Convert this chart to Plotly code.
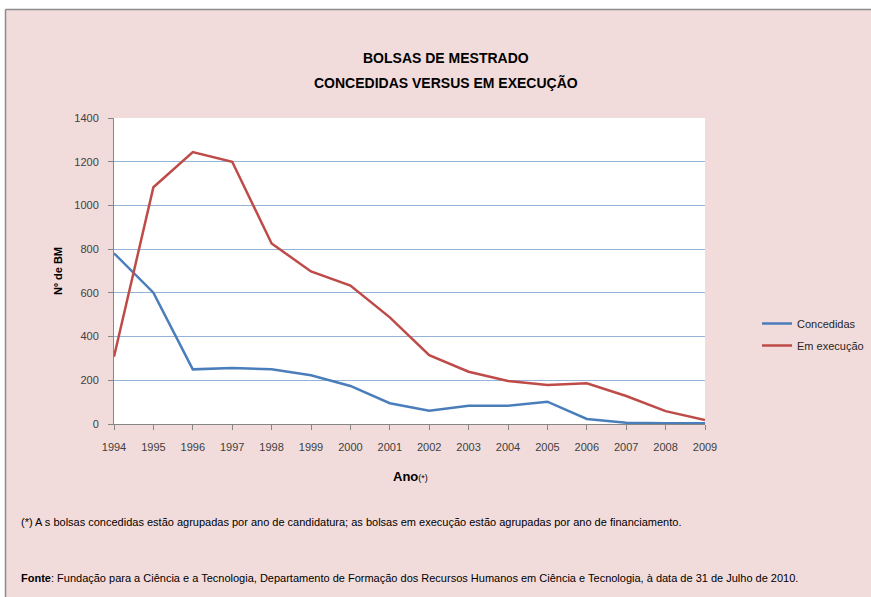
import plotly.graph_objects as go

anos = list(range(1994, 2010))
concedidas = [781, 601, 250, 256, 250, 223, 174, 95, 61, 84, 84, 102, 23, 6, 3, 3]
em_execucao = [308, 1083, 1244, 1200, 826, 698, 633, 488, 315, 239, 197, 178, 186, 128, 59, 18]
y_ticks = [0, 200, 400, 600, 800, 1000, 1200, 1400]

W, H = 871, 597
L, R, T, B = 114, 705, 118, 424

FONT = "Liberation Sans, Arial, sans-serif"

def px(x):
    return (x - L) / (R - L)

def py(y):
    return (B - y) / (B - T)

fig = go.Figure()
fig.add_trace(go.Scatter(x=anos, y=concedidas, mode="lines", name="Concedidas",
                         line=dict(color="#4A7EBB", width=2.5), legendgroup="a"))
fig.add_trace(go.Scatter(x=anos, y=em_execucao, mode="lines", name="Em execução",
                         line=dict(color="#BE4B48", width=2.5), legendgroup="b"))

fig.update_layout(
    width=W, height=H,
    margin=dict(l=L, r=W - R, t=T, b=H - B, pad=0, autoexpand=False),
    paper_bgcolor="#F2DCDB",
    plot_bgcolor="white",
    font=dict(family=FONT, size=11, color="#404040"),
    showlegend=True,
    legend=dict(x=px(757), y=py(309), xanchor="left", yanchor="top",
                bgcolor="rgba(0,0,0,0)", font=dict(size=11, color="#262626"),
                traceorder="grouped", tracegroupgap=3, itemwidth=30),
    xaxis=dict(range=[1994, 2009], tickmode="array", tickvals=anos,
               ticktext=[str(a) for a in anos], showgrid=False, zeroline=False,
               showline=True, linecolor="#868686", linewidth=1,
               ticks="outside", ticklen=5, tickcolor="#868686", ticklabelstandoff=8,
               tickfont=dict(size=11, color="#404040"), fixedrange=True),
    yaxis=dict(range=[0, 1400], tickmode="array", tickvals=y_ticks,
               showgrid=True, gridcolor="#95B3D7", gridwidth=1, zeroline=False,
               showline=True, linecolor="#868686", linewidth=1,
               ticks="outside", ticklen=5, tickcolor="#868686", ticklabelstandoff=7,
               tickfont=dict(size=11, color="#404040"), fixedrange=True),
    shapes=[
        dict(type="rect", xref="paper", yref="paper", x0=px(-5), x1=px(W + 5),
             y0=py(0), y1=py(9), fillcolor="white", line=dict(width=0), layer="below"),
        dict(type="rect", xref="paper", yref="paper", x0=px(-5), x1=px(5),
             y0=py(H + 5), y1=py(0), fillcolor="white", line=dict(width=0), layer="below"),
        dict(type="line", xref="paper", yref="paper", x0=px(5.5), x1=px(W + 10),
             y0=py(9.5), y1=py(9.5), line=dict(color="#8C8C8C", width=1.5), layer="above"),
        dict(type="line", xref="paper", yref="paper", x0=px(5.5), x1=px(5.5),
             y0=py(9.5), y1=py(H + 10), line=dict(color="#8C8C8C", width=1.5), layer="above"),
    ],
    annotations=[
        dict(text="<b>BOLSAS DE MESTRADO</b>", xref="paper", yref="paper",
             x=px(446), y=py(58), xanchor="center", yanchor="middle", showarrow=False,
             font=dict(size=14, color="#000000")),
        dict(text="<b>CONCEDIDAS VERSUS EM EXECUÇÃO</b>", xref="paper", yref="paper",
             x=px(446), y=py(83), xanchor="center", yanchor="middle", showarrow=False,
             font=dict(size=14, color="#000000")),
        dict(text="<b>Nº de BM</b>", xref="paper", yref="paper", x=px(58), y=py(271),
             xanchor="center", yanchor="middle", textangle=-90, showarrow=False,
             font=dict(size=11, color="#000000")),
        dict(text="<b>Ano</b><span style='font-size:9px'>(*)</span>", xref="paper", yref="paper",
             x=px(410), y=py(476), xanchor="center", yanchor="middle", showarrow=False,
             font=dict(size=13, color="#000000")),
        dict(text="(*) A s bolsas concedidas estão agrupadas por ano de candidatura; as bolsas em execução estão agrupadas por ano de financiamento.",
             xref="paper", yref="paper", x=px(19), y=py(522), xanchor="left", yanchor="middle",
             showarrow=False, font=dict(size=11, color="#000000")),
        dict(text="<b>Fonte</b>: Fundação para a Ciência e a Tecnologia, Departamento de Formação dos Recursos Humanos em Ciência e Tecnologia, à data de 31 de Julho de 2010.",
             xref="paper", yref="paper", x=px(19), y=py(578), xanchor="left", yanchor="middle",
             showarrow=False, font=dict(size=11, color="#000000")),
    ],
)

fig.write_html("out.html", config={"displayModeBar": False},
               post_script="document.body.style.margin='0';"
                           "document.body.style.overflow='hidden';"
                           "document.body.style.background='#F2DCDB';")
